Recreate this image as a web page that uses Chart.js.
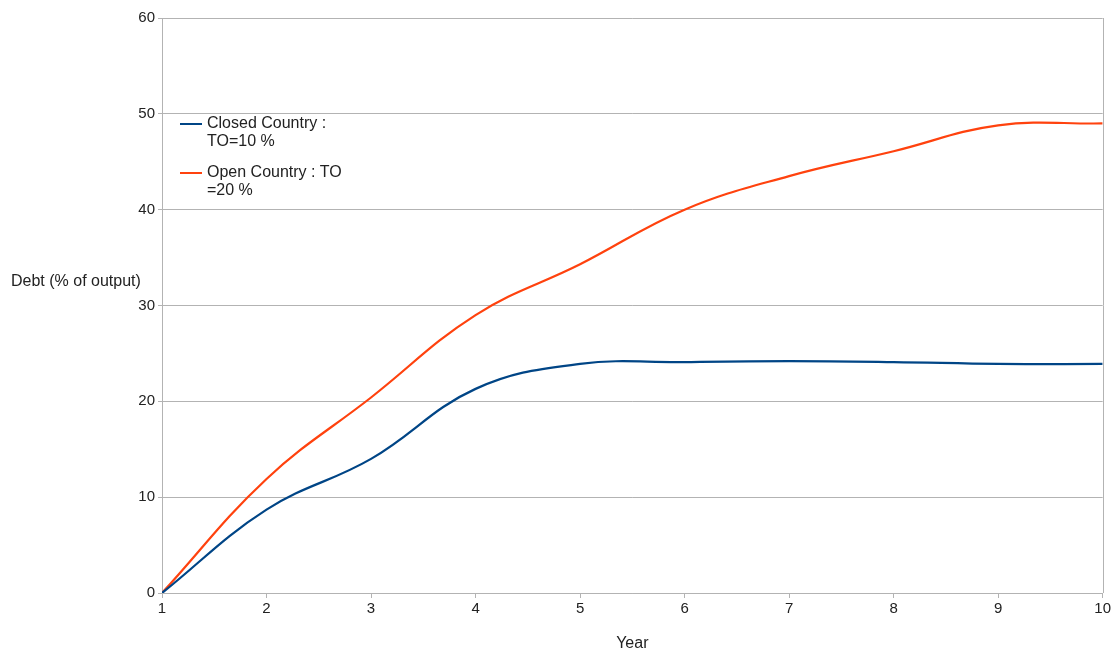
<!DOCTYPE html>
<html lang="en">
<head>
    <meta charset="UTF-8">
    <title>Debt (% of output)</title>
    <script src="https://cdn.jsdelivr.net/npm/chart.js"></script>
    <style>
        body {
            margin: 0;
            background: #ffffff;
            font-family: "Liberation Sans", Arial, sans-serif;
        }

        .wrap {
            position: relative;
            width: 1113px;
            height: 650px;
        }

        .ytitle {
            position: absolute;
            left: 11px;
            top: 272px;
            font-size: 16px;
            color: #222;
        }

        .legend {
            position: absolute;
            left: 180px;
            top: 114px;
            font-size: 16px;
            line-height: 18px;
            color: #222;
        }

        .item {
            display: flex;
            align-items: flex-start;
            margin-bottom: 13px;
        }

        .swatch {
            width: 22px;
            height: 2px;
            margin-top: 9px;
            margin-right: 5px;
        }
    </style>
</head>
<body>
    <div class="wrap">
        <canvas id="grafico" width="1113" height="650"></canvas>
        <div class="ytitle">Debt (% of output)</div>
        <div class="legend" id="leyenda"></div>
    </div>

    <script>
        // datos
        const years = [1, 2, 3, 4, 5, 6, 7, 8, 9, 10];
        const closedCountry = [0, 8.7, 14.0, 21.3, 23.9, 24.1, 24.2, 24.1, 23.9, 23.9];
        const openCountry = [0, 11.9, 20.4, 29.0, 34.3, 40.0, 43.5, 46.1, 48.8, 49.0];
        const seriesNames = [['Closed Country :', 'TO=10 %'], ['Open Country : TO', '=20 %']];
        const seriesColors = ['#004586', '#ff420e'];

        const gridColor = '#b3b3b3';

        // leyenda en html para poder partir el texto en dos lineas
        const leyenda = document.getElementById('leyenda');
        seriesNames.forEach(function (lines, i) {
            const item = document.createElement('div');
            item.className = 'item';
            const sw = document.createElement('div');
            sw.className = 'swatch';
            sw.style.background = seriesColors[i];
            const txt = document.createElement('div');
            txt.innerHTML = lines.join('<br>');
            item.appendChild(sw);
            item.appendChild(txt);
            leyenda.appendChild(item);
        });

        // borde derecho del area de trazado
        const rightBorder = {
            id: 'rightBorder',
            beforeDatasetsDraw(chart) {
                const a = chart.chartArea;
                const ctx = chart.ctx;
                ctx.save();
                ctx.strokeStyle = gridColor;
                ctx.lineWidth = 1;
                ctx.beginPath();
                ctx.moveTo(Math.round(a.right) + 0.5, a.top);
                ctx.lineTo(Math.round(a.right) + 0.5, a.bottom);
                ctx.stroke();
                ctx.restore();
            }
        };

        new Chart(document.getElementById('grafico'), {
            type: 'line',
            data: {
                datasets: [
                    {
                        label: seriesNames[0].join(' '),
                        data: years.map((x, i) => ({ x: x, y: closedCountry[i] })),
                        borderColor: seriesColors[0],
                        borderWidth: 2.2,
                        pointRadius: 0,
                        tension: 0.4,
                        fill: false
                    },
                    {
                        label: seriesNames[1].join(' '),
                        data: years.map((x, i) => ({ x: x, y: openCountry[i] })),
                        borderColor: seriesColors[1],
                        borderWidth: 2.2,
                        pointRadius: 0,
                        tension: 0.4,
                        fill: false
                    }
                ]
            },
            plugins: [rightBorder],
            options: {
                responsive: false,
                animation: false,
                layout: {
                    padding: { left: 0, right: 10, top: 18, bottom: 0 }
                },
                plugins: {
                    legend: { display: false },
                    tooltip: { enabled: false }
                },
                scales: {
                    x: {
                        type: 'linear',
                        min: 1,
                        max: 10,
                        afterFit: function (s) { s.height = 57; },
                        ticks: {
                            stepSize: 1,
                            color: '#222',
                            padding: 2,
                            font: { family: 'Liberation Sans', size: 15 }
                        },
                        grid: {
                            drawOnChartArea: false,
                            color: gridColor,
                            tickLength: 5
                        },
                        border: { color: gridColor },
                        title: {
                            display: true,
                            text: 'Year',
                            color: '#222',
                            padding: { top: 0, bottom: -3 },
                            font: { family: 'Liberation Sans', size: 16 }
                        }
                    },
                    y: {
                        min: 0,
                        max: 60,
                        afterFit: function (s) { s.width = 162; },
                        ticks: {
                            stepSize: 10,
                            color: '#222',
                            padding: 3,
                            font: { family: 'Liberation Sans', size: 15 }
                        },
                        grid: {
                            color: gridColor,
                            tickLength: 4
                        },
                        border: { color: gridColor }
                    }
                }
            }
        });
    </script>
</body>
</html>
